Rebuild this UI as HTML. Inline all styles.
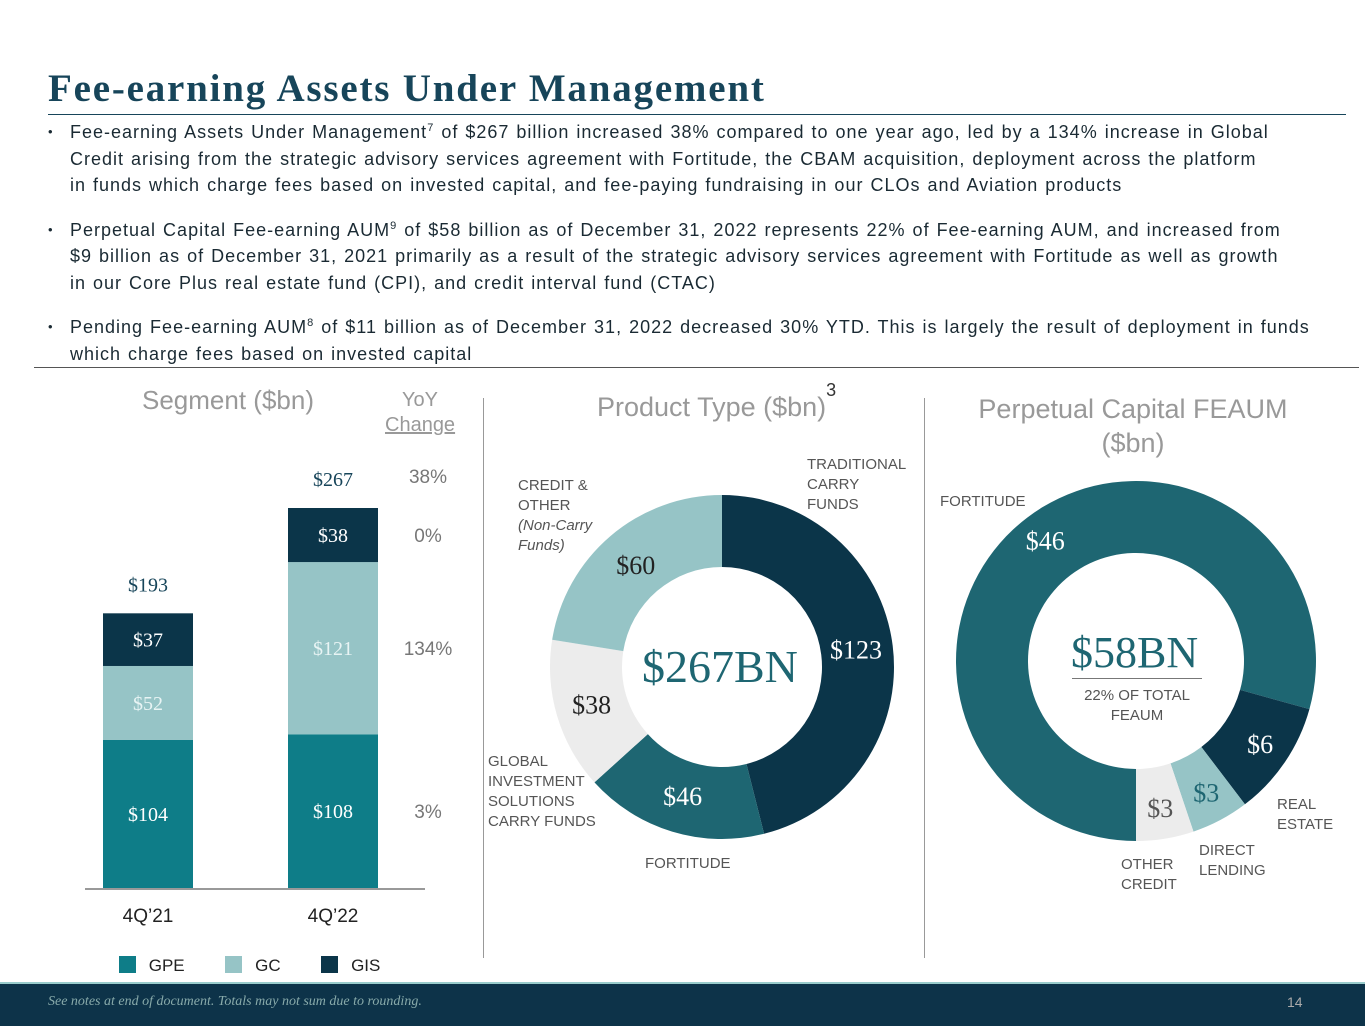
<!DOCTYPE html>
<html><head><meta charset="utf-8"><style>
body{margin:0;width:1365px;height:1024px;position:relative;background:#fff;font-family:"Liberation Sans",sans-serif;overflow:hidden}
.t{position:absolute;white-space:nowrap}
.serif{font-family:"Liberation Serif",serif}
ul{position:absolute;left:48px;top:119px;margin:0;padding:0;list-style:none;width:1300px;font-size:18px;line-height:26.5px;color:#1a2a33;letter-spacing:1.0px;word-spacing:1px;white-space:nowrap}
li{position:relative;padding-left:22px;margin-bottom:18px}
li:before{content:"•";position:absolute;left:0;font-size:13px}
sup{font-size:11px;line-height:0}
.lbl{position:absolute;font-size:15px;color:#555;line-height:20px}
</style></head><body>
<div class="t serif" style="left:48px;top:66px;font-size:39px;font-weight:bold;color:#17455a;letter-spacing:1.8px">Fee-earning Assets Under Management</div>
<div style="position:absolute;left:48px;top:114px;width:1298px;height:1px;background:#17455a"></div>
<ul>
<li>Fee-earning Assets Under Management<sup>7</sup> of $267 billion increased 38% compared to one year ago, led by a 134% increase in Global<br>Credit arising from the strategic advisory services agreement with Fortitude, the CBAM acquisition, deployment across the platform<br>in funds which charge fees based on invested capital, and fee-paying fundraising in our CLOs and Aviation products</li>
<li>Perpetual Capital Fee-earning AUM<sup>9</sup> of $58 billion as of December 31, 2022 represents 22% of Fee-earning AUM, and increased from<br>$9 billion as of December 31, 2021 primarily as a result of the strategic advisory services agreement with Fortitude as well as growth<br>in our Core Plus real estate fund (CPI), and credit interval fund (CTAC)</li>
<li>Pending Fee-earning AUM<sup>8</sup> of $11 billion as of December 31, 2022 decreased 30% YTD. This is largely the result of deployment in funds<br>which charge fees based on invested capital</li>
</ul>
<div style="position:absolute;left:34px;top:367px;width:1325px;height:1px;background:#555"></div>
<div style="position:absolute;left:483px;top:398px;width:1px;height:560px;background:#999"></div>
<div style="position:absolute;left:924px;top:398px;width:1px;height:560px;background:#999"></div>

<div class="t" style="left:142px;top:385px;font-size:26px;color:#999">Segment ($bn)</div>
<div class="t" style="left:385px;top:388px;font-size:20px;color:#999;text-align:center;line-height:25px">YoY<br><u>Change</u></div>
<div class="t" style="left:597px;top:392px;font-size:27px;color:#999">Product Type ($bn)<sup style="font-size:18px;position:relative;top:-10px;color:#333">3</sup></div>
<div class="t" style="left:958px;top:392px;font-size:27px;color:#999;text-align:center;line-height:34px;width:350px">Perpetual Capital FEAUM<br>($bn)</div>

<svg id="bars" width="1365" height="1024" style="position:absolute;left:0;top:0"></svg>
<svg id="d1" width="1365" height="1024" style="position:absolute;left:0;top:0"></svg>
<svg id="d2" width="1365" height="1024" style="position:absolute;left:0;top:0"></svg>

<div class="lbl" style="left:807px;top:455px">TRADITIONAL<br>CARRY<br>FUNDS</div>
<div class="lbl" style="left:518px;top:476px">CREDIT &amp;<br>OTHER<br><i>(Non-Carry<br>Funds)</i></div>
<div class="lbl" style="left:488px;top:752px">GLOBAL<br>INVESTMENT<br>SOLUTIONS<br>CARRY FUNDS</div>
<div class="lbl" style="left:645px;top:854px">FORTITUDE</div>
<div class="lbl" style="left:940px;top:492px">FORTITUDE</div>
<div class="lbl" style="left:1277px;top:795px">REAL<br>ESTATE</div>
<div class="lbl" style="left:1199px;top:841px">DIRECT<br>LENDING</div>
<div class="lbl" style="left:1121px;top:855px">OTHER<br>CREDIT</div>
<div class="t serif" style="left:642px;top:640px;font-size:46px;color:#1e6672">$267BN</div>
<div class="t serif" style="left:1071px;top:627px;font-size:44px;color:#1e6672">$58BN</div>
<div style="position:absolute;left:1072px;top:678px;width:130px;height:1px;background:#777"></div>
<div class="lbl" style="left:1076px;top:686px;width:122px;text-align:center">22% OF TOTAL<br>FEAUM</div>

<div style="position:absolute;left:119px;top:956px;font-size:17px;color:#222">
<span style="display:inline-block;width:17px;height:17px;background:#0e7d88;vertical-align:-2px"></span> <span style="margin-right:36px;margin-left:8px">GPE</span>
<span style="display:inline-block;width:17px;height:17px;background:#96c4c6;vertical-align:-2px"></span> <span style="margin-right:36px;margin-left:8px">GC</span>
<span style="display:inline-block;width:17px;height:17px;background:#0b3549;vertical-align:-2px"></span> <span style="margin-left:8px">GIS</span></div>

<div style="position:absolute;left:0;top:982px;width:1365px;height:42px;background:#0d3349;border-top:2px solid #9cc">
<div class="t serif" style="left:48px;top:10px;font-size:14px;font-style:italic;color:#8aa">See notes at end of document. Totals may not sum due to rounding.</div>
<div class="t" style="left:1287px;top:10px;font-size:14px;color:#aaa">14</div></div>

<script>
const NS="http://www.w3.org/2000/svg";
const periods=["4Q’21","4Q’22"];
const gpe=[104,108];
const gc=[52,121];
const gis=[37,38];
const totals=["$193","$267"];
const yoy=["3%","134%","0%","38%"];
const segColors=["#0e7d88","#96c4c6","#0b3549"];
const segText=["#fff","#e8f4f4","#fff"];
function mk(svg,tag,at,txt){const e=document.createElementNS(NS,tag);for(const k in at)e.setAttribute(k,at[k]);if(txt!==undefined)e.textContent=txt;svg.appendChild(e);return e;}
const bs=document.getElementById('bars');
const base=888, k=380/267;
const y=v=>base-v*k;
const xc=i=>148+i*185;
[gpe,gc,gis].forEach((ser,s)=>{ser.forEach((v,i)=>{
 const below=[gpe,gc,gis].slice(0,s).reduce((a,r)=>a+r[i],0);
 const r=mk(bs,'rect',{x:xc(i)-45,y:y(below+v),width:90,height:v*k,fill:segColors[s]});
 
 
 const t=mk(bs,'text',{x:xc(i),y:y(below+v/2)+7,'text-anchor':'middle','font-family':'Liberation Serif, serif','font-size':20,fill:segText[s]},'$'+v);
 
 
});});
periods.forEach((p,i)=>{
 const tot=gpe[i]+gc[i]+gis[i];
 const t=mk(bs,'text',{x:xc(i),y:y(tot)-22,'text-anchor':'middle','font-family':'Liberation Serif, serif','font-size':20,fill:'#17455a'},totals[i]);
 
 
 const l=mk(bs,'text',{x:xc(i),y:922,'text-anchor':'middle','font-size':19,fill:'#222'},p);
 
 
});
mk(bs,'line',{x1:85,x2:425,y1:base+1,y2:base+1,stroke:'#333','stroke-width':1});
const mids=[gpe[1]/2,gpe[1]+gc[1]/2,gpe[1]+gc[1]+gis[1]/2];
yoy.forEach((v,i)=>{
 const yy=i<3?y(mids[i])+7:y(gpe[1]+gc[1]+gis[1])-25;
 const t=mk(bs,'text',{x:428,y:yy,'text-anchor':'middle','font-size':19,fill:'#777'},v);
 
 
});

function donut(id,cx,cy,R,r,vals,cols,txtCols,start,labR,fs){
 const svg=document.getElementById(id);const tot=vals.reduce((a,b)=>a+b,0);let a=start;
 vals.forEach((v,i)=>{
  const a2=a+v/tot*360;const rad=d=>(d-90)*Math.PI/180;
  const p=(rr,d)=>[cx+rr*Math.cos(rad(d)),cy+rr*Math.sin(rad(d))];
  const lg=(a2-a)>180?1:0;
  const [x1,y1]=p(R,a),[x2,y2]=p(R,a2),[x3,y3]=p(r,a2),[x4,y4]=p(r,a);
  const e=mk(svg,'path',{d:`M${x1},${y1}A${R},${R} 0 ${lg} 1 ${x2},${y2}L${x3},${y3}A${r},${r} 0 ${lg} 0 ${x4},${y4}Z`,fill:cols[i]});
  
  
  const m=(a+a2)/2;const [tx,ty]=p(labR[i],m);
  const t=mk(svg,'text',{x:tx,y:ty+8,'text-anchor':'middle','font-family':'Liberation Serif, serif','font-size':fs,fill:txtCols[i]},'$'+v);
  
  
  a=a2;
 });
}
const productVals=[123,46,38,60];
const perpVals=[46,6,3,3];
donut('d1',722,667,172,100,productVals,['#0b3549','#1e6672','#ececec','#96c4c6'],['#fff','#fff','#222','#222'],0,[135,136,136,133],26);
donut('d2',1136,661,180,108,perpVals,['#1e6672','#0b3549','#96c4c6','#ececec'],['#fff','#fff','#1e6672','#555'],180,[150,150,150,150],26);
</script>
</body></html>
